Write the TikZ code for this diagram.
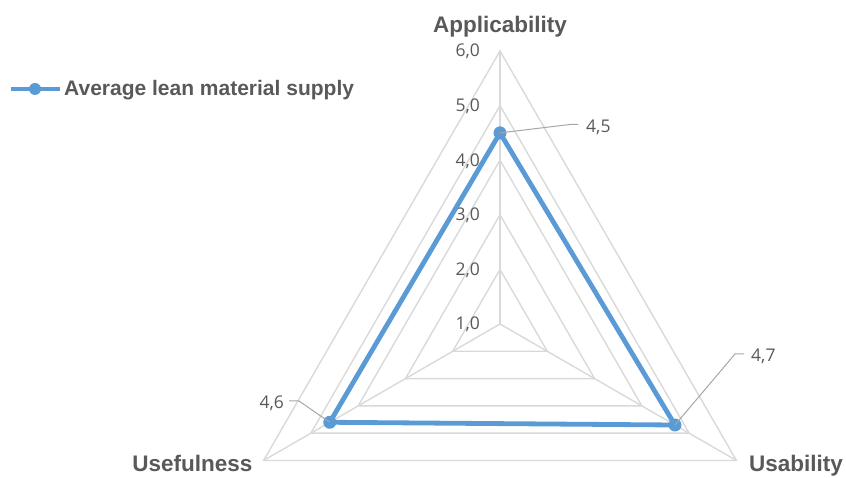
\documentclass[tikz,border=0pt]{standalone}
\usepackage{fontspec}
\setmainfont{Liberation Sans}
\newfontfamily\tickfont{Open Sans}
\usetikzlibrary{calc}
\definecolor{series}{HTML}{5B9BD5}
\definecolor{gridgray}{HTML}{D9D9D9}
\definecolor{labelgray}{HTML}{595959}
\definecolor{leadergray}{HTML}{A6A6A6}
\tikzset{
    grid line/.style={draw=gridgray, line width=1.4pt},
    series line/.style={draw=series, line width=4.8pt, line join=round},
    data dot/.style={circle, fill=series, inner sep=0pt, minimum size=13pt},
    tick label/.style={anchor=base east, text=labelgray, inner sep=0pt, font=\tickfont\fontsize{17.5}{17.5}\selectfont},
    value label/.style={text=labelgray, inner sep=0pt, font=\tickfont\fontsize{17.5}{17.5}\selectfont},
    axis label/.style={text=labelgray, inner sep=0pt, font=\bfseries\fontsize{22.5}{22.5}\selectfont},
    leader/.style={draw=leadergray, line width=1pt}
}

\begin{document}
\begin{tikzpicture}[x=1pt,y=1pt]
\useasboundingbox (0,0) rectangle (846,478);
\coordinate (C) at (500,154);

% rings 2,0 ... 6,0
\foreach \v in {2,...,6}{
    \draw[grid line] ($(C)+(90:{(\v-1)*54.6})$) -- ($(C)+(-30:{(\v-1)*54.6})$) -- ($(C)+(210:{(\v-1)*54.6})$) -- cycle;
}

% spokes
\coordinate (endA) at ($(C)+(90:273)$);
\coordinate (endU) at ($(C)+(-30:273)$);
\coordinate (endF) at ($(C)+(210:273)$);
\draw[grid line] (C) -- (endA);
\draw[grid line] (C) -- (endU);
\draw[grid line] (C) -- (endF);

% scale labels
\foreach \v in {1,...,6}{
    \node[tick label] (tick\v) at (480,{148+(\v-1)*54.6}) {\v,0};
}

% series
\coordinate (vA) at ($(C)+(90:{3.5*54.6})$);
\coordinate (vU) at ($(C)+(-30:{3.7*54.6})$);
\coordinate (vF) at ($(C)+(210:{3.6*54.6})$);
\draw[series line] (vA) -- (vU) -- (vF) -- cycle;
\node[data dot] (dotA) at (vA) {};
\node[data dot] (dotU) at (vU) {};
\node[data dot] (dotF) at (vF) {};

% value labels with leaders
\node[value label, anchor=west] (valA) at (586,351) {4,5};
\coordinate (kinkA) at (570,353.5);
\coordinate (tailA) at (578,353.5);
\draw[leader] (dotA.center) -- (kinkA) -- (tailA);

\node[value label, anchor=west] (valU) at (751,122) {4,7};
\coordinate (kinkU) at (735,124);
\coordinate (tailU) at (744,124);
\draw[leader] (dotU.center) -- (kinkU) -- (tailU);

\node[value label, anchor=east] (valF) at (284,75) {4,6};
\coordinate (kinkF) at (299,77);
\coordinate (tailF) at (289,77);
\draw[leader] (dotF.center) -- (kinkF) -- (tailF);

% axis names
\node[axis label, anchor=base] (nameA) at (500,445.7) {Applicability};
\node[axis label, anchor=base east] (nameF) at (252.7,6.3) {Usefulness};
\node[axis label, anchor=base west] (nameU) at (749,6.3) {Usability};

% legend
\coordinate (legL) at (11,389);
\coordinate (legR) at (60,389);
\draw[series line, line width=4pt] (legL) -- (legR);
\node[data dot, minimum size=12pt] (legdot) at (35,389) {};
\node[axis label, anchor=base west, font=\bfseries\fontsize{21}{21}\selectfont] (legtext) at (64,382.3) {Average lean material supply};
\end{tikzpicture}
\end{document}
